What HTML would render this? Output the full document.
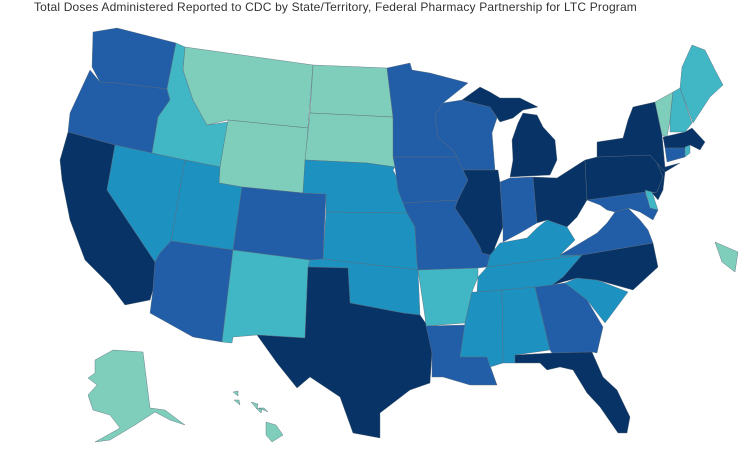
<!DOCTYPE html>
<html><head><meta charset="utf-8"><style>
body{margin:0;background:#fff;width:750px;height:452px;overflow:hidden}
.t{position:absolute;left:34px;top:0px;font:12px "Liberation Sans",sans-serif;color:#333;letter-spacing:0.17px;white-space:nowrap}
svg{position:absolute;left:0;top:0}
polygon{stroke:#5a6a78;stroke-width:0.4;stroke-linejoin:round}
.n{fill:#073366}.d{fill:#225ea8}.m{fill:#1d91c0}.t2{fill:#41b6c4}.g{fill:#7fcdbb}
</style></head><body>
<div class="t">Total Doses Administered Reported to CDC by State/Territory, Federal Pharmacy Partnership for LTC Program</div>
<svg width="750" height="452" viewBox="0 0 750 452">
<polygon class="d" points="93,32 117,28 176,43 167,89 117,83 100,82 92,67"/>
<polygon class="d" points="100,82 117,83 167,89 170,100 158,117 152,153 115,145 68,132 70,113 90,70"/>
<polygon class="n" points="68,132 115,145 107,190 155,262 153,290 150,300 125,305 110,285 85,260 70,220 62,180 60,160"/>
<polygon class="m" points="115,145 152,153 185,160 171,241 160,253 155,262 107,190"/>
<polygon class="t2" points="176,43 185,47 183,70 193,100 207,125 228,122 220,167 185,160 152,153 158,117 170,100 167,89"/>
<polygon class="g" points="185,47 313,65 308,128 228,120 207,125 193,100 183,70"/>
<polygon class="g" points="228,120 308,128 303,193 242,187 219,183 220,167"/>
<polygon class="m" points="185,160 220,167 219,183 242,187 233,250 171,241"/>
<polygon class="d" points="242,187 303,193 326,194 323,259 310,260 233,250"/>
<polygon class="d" points="171,241 233,250 222,342 193,337 150,313 153,290 155,262 160,253"/>
<polygon class="t2" points="233,250 310,260 308,267 305,338 257,335 233,337 232,343 222,342"/>
<polygon class="g" points="313,65 387,68 393,117 310,113"/>
<polygon class="g" points="310,113 393,117 395,167 367,163 305,160"/>
<polygon class="m" points="305,160 367,163 395,167 393,170 403,190 407,213 326,212 326,194 303,193"/>
<polygon class="m" points="326,212 407,213 415,227 417,262 418,270 323,259"/>
<polygon class="m" points="310,260 323,259 418,270 420,315 403,313 350,303 348,268 308,267"/>
<polygon class="n" points="308,267 348,268 350,303 403,313 420,315 427,325 432,353 430,383 410,390 380,413 380,438 353,433 340,397 310,377 297,388 277,363 257,335 305,338"/>
<polygon class="d" points="387,68 410,63 412,70 430,73 468,83 443,103 435,115 438,137 453,150 457,157 393,157 393,117"/>
<polygon class="d" points="443,103 462,100 490,107 497,118 492,133 495,170 463,170 457,157 453,150 438,137 435,115"/>
<polygon class="d" points="393,157 457,157 463,170 468,180 458,200 403,203 398,190 395,167"/>
<polygon class="d" points="403,203 458,200 455,208 470,230 480,247 482,253 490,255 487,267 478,268 418,270 417,262 415,227 407,213"/>
<polygon class="n" points="463,170 498,170 500,183 503,227 495,247 493,255 490,255 482,253 480,247 470,230 455,208 458,200 468,180"/>
<polygon class="d" points="500,182 510,178 533,177 537,223 520,233 503,242 503,227"/>
<polygon class="n" points="533,177 557,178 585,160 587,200 577,217 567,227 547,220 537,223"/>
<polygon class="n" points="462,100 480,87 490,92 500,98 520,98 538,107 523,110 513,118 500,122 490,107"/>
<polygon class="n" points="518,123 523,113 537,115 543,127 555,140 557,160 550,175 510,177 513,160 512,140"/>
<polygon class="t2" points="418,270 478,268 478,277 472,292 465,323 426,326 425,317"/>
<polygon class="d" points="426,326 465,325 460,357 487,357 497,385 470,385 443,377 432,377 432,353"/>
<polygon class="m" points="477,292 502,290 503,363 490,367 487,357 460,357 465,323 472,292"/>
<polygon class="m" points="502,290 535,287 550,350 515,355 515,363 503,363"/>
<polygon class="d" points="535,287 565,283 587,300 603,327 597,353 592,352 552,353 550,350"/>
<polygon class="n" points="515,355 552,353 592,352 603,377 617,390 630,417 627,433 618,433 600,407 587,393 573,370 560,367 547,370 540,363 515,363"/>
<polygon class="m" points="565,283 577,278 597,280 628,292 605,323 587,300"/>
<polygon class="n" points="552,285 563,277 582,255 653,243 658,267 633,290 597,280 577,278"/>
<polygon class="m" points="478,277 487,267 582,255 563,277 552,285 535,287 502,290 477,292"/>
<polygon class="m" points="487,267 490,255 500,243 527,238 537,228 547,220 567,227 575,240 560,255 582,255"/>
<polygon class="d" points="560,255 577,245 597,233 607,223 615,212 628,208 640,220 648,230 653,243 582,255"/>
<polygon class="n" points="585,160 597,157 650,155 657,163 663,177 657,192 587,200"/>
<polygon class="n" points="597,157 597,142 623,138 628,120 633,107 655,102 662,135 665,167 680,163 665,172 657,163 650,155"/>
<polygon class="n" points="657,163 665,172 663,190 658,200 652,193 657,192 663,177"/>
<polygon class="d" points="587,200 645,192 650,207 658,210 653,220 640,212 628,208 615,212 607,210 600,205"/>
<polygon class="t2" points="645,190 652,192 658,210 650,208"/>
<polygon class="g" points="655,102 673,92 670,120 667,137 662,135"/>
<polygon class="t2" points="673,92 680,88 692,123 685,132 670,132 670,120"/>
<polygon class="t2" points="680,88 682,67 692,45 705,50 715,70 723,85 710,97 693,123"/>
<polygon class="n" points="663,137 685,132 692,128 705,142 700,150 690,145 685,148 665,148"/>
<polygon class="d" points="665,148 685,148 685,157 667,162"/>
<polygon class="t2" points="685,147 690,145 690,153 685,157"/>
<polygon class="g" points="715,242 738,252 735,272 722,262"/>
<polygon class="g" points="113,350 143,352 150,408 165,410 185,425 170,420 155,412 135,425 110,440 95,442 120,428 110,415 93,410 88,395 97,385 88,378 95,373 95,360"/>
<polygon class="g" points="266,422 276,425 283,435 272,442 266,435"/>
<polygon class="g" points="233,392 238,391 238,396"/>
<polygon class="g" points="234,400 239,400 240,405"/>
<polygon class="g" points="251,402 258,404 257,409"/>
<polygon class="g" points="256,408 262,409 261,413"/>
<polygon class="g" points="259,408 264,408 268,412"/>
</svg>
</body></html>
